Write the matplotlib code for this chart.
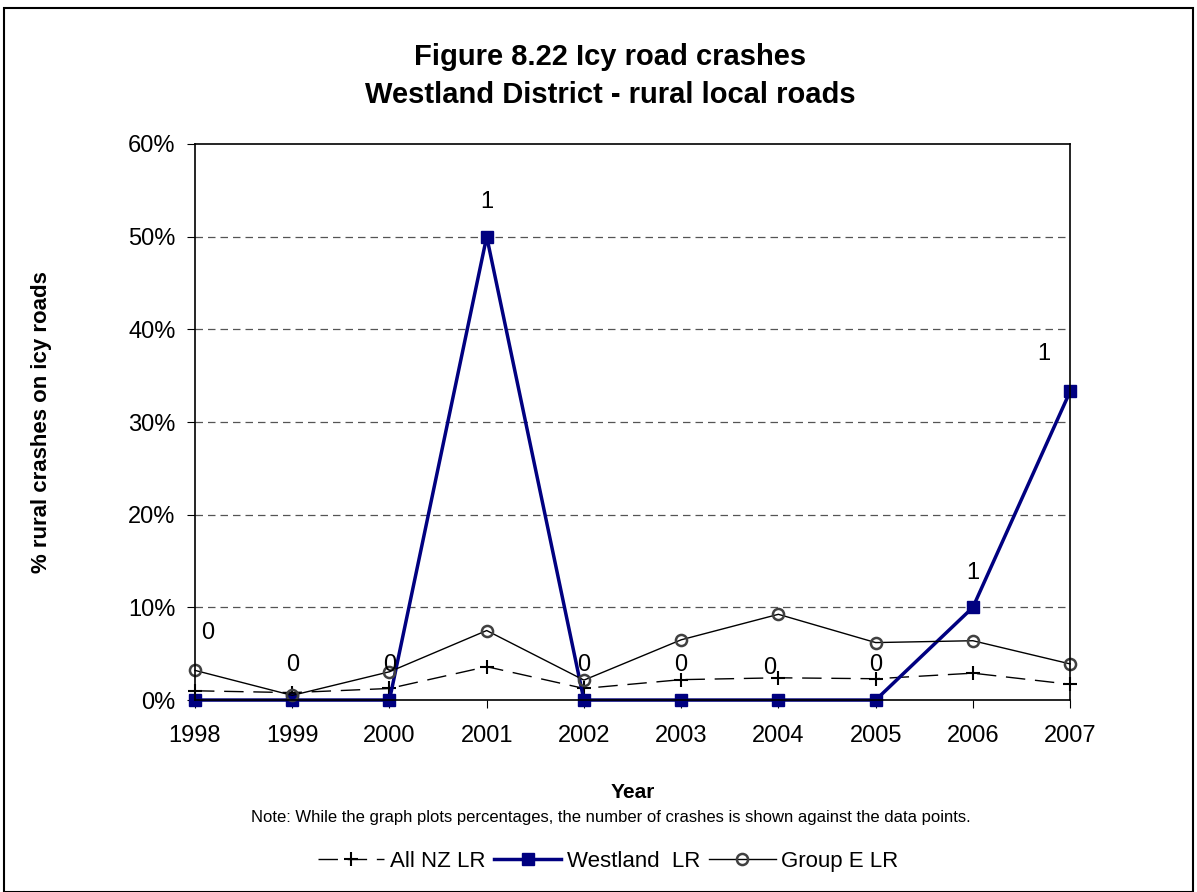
import matplotlib.pyplot as plt
from matplotlib.patches import Rectangle
from matplotlib.ticker import FuncFormatter

plt.rcParams['font.family'] = ['Liberation Sans', 'DejaVu Sans']

years = [1998, 1999, 2000, 2001, 2002, 2003, 2004, 2005, 2006, 2007]
all_nz = [1.0, 0.8, 1.25, 3.6, 1.25, 2.2, 2.4, 2.3, 2.9, 1.7]
westland = [0, 0, 0, 50, 0, 0, 0, 0, 10, 33.3]
group_e = [3.2, 0.5, 3.05, 7.5, 2.15, 6.5, 9.25, 6.2, 6.4, 3.9]
crash_counts = ["0", "0", "0", "1", "0", "0", "0", "0", "1", "1"]
# label offsets in points (dx, dy) from the Westland point
label_offsets = [(9, 48), (0, 25), (0, 25), (0, 25), (0, 25), (0, 25), (-6, 23), (0, 25), (0, 25), (-19, 27)]

fig = plt.figure(figsize=(11.97, 8.92), dpi=100)
ax = fig.add_axes([0.1629, 0.2152, 0.894 - 0.1629, 0.8386 - 0.2152])

ax.plot(years, all_nz, color="black", lw=1, dashes=(14, 7), marker="+", ms=10,
        mew=1.5, label="All NZ LR", clip_on=False)
ax.plot(years, westland, color="#000080", lw=2.5, marker="s", ms=9,
        label="Westland  LR", clip_on=False)
ax.plot(years, group_e, color="black", lw=1, marker="o", ms=8, mfc="none",
        mec="#404040", mew=1.8, label="Group E LR", clip_on=False)

for x, y, t, off in zip(years, westland, crash_counts, label_offsets):
    ax.annotate(t, (x, y), xytext=off, textcoords="offset points",
                ha="center", va="center", fontsize=17)

ax.set_xlim(1998, 2007)
ax.set_ylim(0, 60)
ax.set_xticks(years)
ax.set_yticks(range(0, 61, 10))
ax.yaxis.set_major_formatter(FuncFormatter(lambda v, p: "%d%%" % v))
ax.tick_params(labelsize=17, length=6, direction="out")
ax.tick_params(axis="x", pad=12)
ax.tick_params(axis="y", pad=8)
for v in range(10, 60, 10):
    ax.axhline(v, color="#555555", lw=0.9, dashes=(6, 4), zorder=0)
for s in ax.spines.values():
    s.set_linewidth(1.2)

ax.set_xlabel("Year", fontsize=15, fontweight="bold")
ax.xaxis.set_label_coords(0.5, -0.15)
ax.set_ylabel("% rural crashes on icy roads", fontsize=16, fontweight="bold")
ax.yaxis.set_label_coords(-0.163, 0.5)

fig.text(0.51, 0.936, "Figure 8.22 Icy road crashes", ha="center", va="center",
         fontsize=21, fontweight="bold")
fig.text(0.51, 0.894, "Westland District - rural local roads", ha="center", va="center",
         fontsize=21, fontweight="bold")
fig.text(0.51, 0.083, "Note: While the graph plots percentages, the number of crashes is shown against the data points.",
         ha="center", va="center", fontsize=12)

ax.legend(loc="center", bbox_to_anchor=(0.508, 0.034), bbox_transform=fig.transFigure,
          ncol=3, frameon=False, fontsize=16, handlelength=3.0, columnspacing=0.4,
          handletextpad=0.25)

fig.patches.append(Rectangle((4 / 1197, 0), 1189 / 1197, 884 / 892, transform=fig.transFigure,
                             fill=False, edgecolor="black", lw=1.5))

fig.savefig("out.png", dpi=100)
